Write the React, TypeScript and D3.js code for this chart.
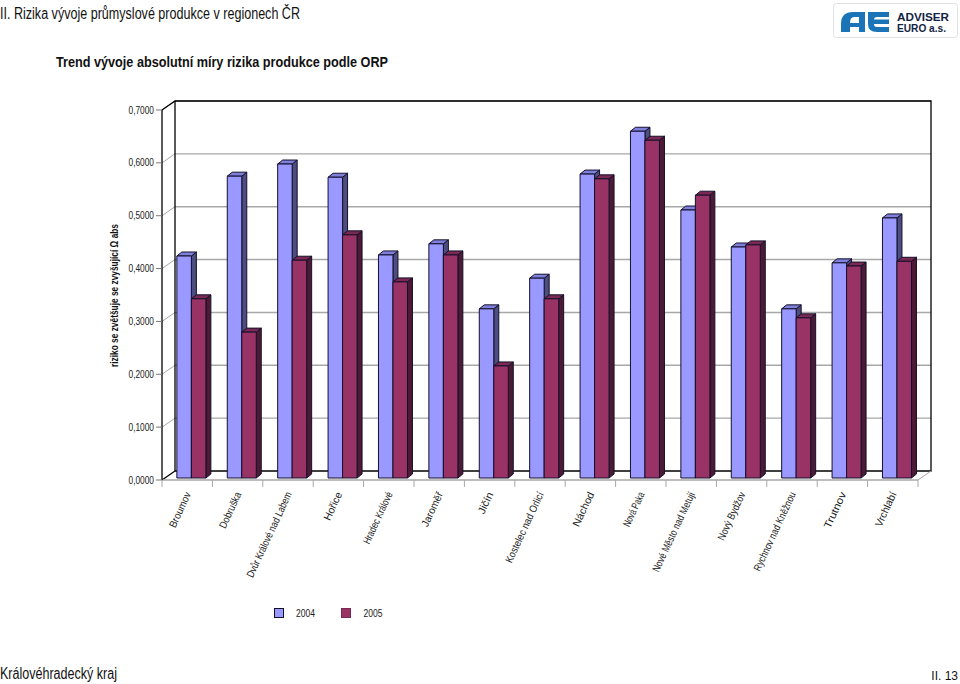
import React from 'react';
import * as d3 from 'd3';

const categories = ['Broumov','Dobruška','Dvůr Králové nad Labem','Hořice','Hradec Králové','Jaroměř','Jičín','Kostelec nad Orlicí','Náchod','Nová Paka','Nové Město nad Metují','Nový Bydžov','Rychnov nad Kněžnou','Trutnov','Vrchlabí'];
const series2004 = [0.420,0.571,0.594,0.569,0.422,0.443,0.320,0.378,0.575,0.656,0.507,0.437,0.320,0.407,0.492];
const series2005 = [0.339,0.276,0.412,0.460,0.371,0.422,0.212,0.339,0.566,0.639,0.535,0.441,0.303,0.401,0.410];
const yTicks = [0,0.1,0.2,0.3,0.4,0.5,0.6,0.7];
const labelLengths = [38,39,93,30,56,37,23,77,37,37,87,52,86,39,37];
const seriesNames = ['2004','2005'];

const FONT = '"Liberation Sans", Arial, sans-serif';
const left = 162, right = 918, dx = 13, dy = -9;
const y = d3.scaleLinear().domain([0, 0.7]).range([480, 110]);
const x = d3.scaleBand<string>().domain(categories).range([left, right]);
const H = (v: number) => y(0) - y(v);
const barBase = 478;
const bw = 14.5, bdx = 5, bdy = -4;
const fmt = (v: number) => v.toFixed(4).replace('.', ',');
const GRID = '#a8a8a8';

function Bar({ x0, v, front, top, side }: any) {
  const yt = barBase - H(v);
  const p = (pts: number[][]) => pts.map(a => a.join(',')).join(' ');
  return (
    <g stroke="#14102c" strokeWidth={1} strokeLinejoin="round">
      <polygon points={p([[x0 + bw, yt],[x0 + bw + bdx, yt + bdy],[x0 + bw + bdx, barBase + bdy],[x0 + bw, barBase]])} fill={side} />
      <polygon points={p([[x0, yt],[x0 + bdx, yt + bdy],[x0 + bw + bdx, yt + bdy],[x0 + bw, yt]])} fill={top} />
      <rect x={x0} y={yt} width={bw} height={H(v) } fill={front} />
    </g>
  );
}

export default function App() {
  const step = x.step();
  return (
    <svg width={960} height={684} viewBox="0 0 960 684" style={{ position: 'absolute', left: 0, top: 0, background: '#fff' }} fontFamily={FONT}>
      <text x={0} y={19} fontSize={16} fill="#111" textLength={300} lengthAdjust="spacingAndGlyphs">II. Rizika vývoje průmyslové produkce v regionech ČR</text>
      <text x={56} y={67} fontSize={14} fontWeight="bold" fill="#111" textLength={332} lengthAdjust="spacingAndGlyphs">Trend vývoje absolutní míry rizika produkce podle ORP</text>

      {/* logo */}
      <g>
        <rect x={833.5} y={3.5} width={124} height={34} rx={3} fill="#fff" stroke="#e2e2e2" />
        <path d="M841 32 V24 Q841 12 853 12 H865 V32 H859 V27 H850 V32 Z M850 23 H859 V17 H854 Q850 17 850 23 Z" fill="#1c74b8" fillRule="evenodd" />
        <path d="M868 12 H889 V17 H877 Q874 17 874 19.5 H889 V24 H874 Q874 27 877 27 H889 V32 H877 Q868 32 868 24 Z" fill="#1c74b8" />
        <text x={897} y={21} fontSize={10.5} fontWeight="bold" fill="#14233f" textLength={52} lengthAdjust="spacingAndGlyphs">ADVISER</text>
        <text x={897} y={32} fontSize={10.5} fontWeight="bold" fill="#14233f" textLength={49} lengthAdjust="spacingAndGlyphs">EURO a.s.</text>
      </g>

      {/* gridlines on back wall and side wall */}
      {yTicks.slice(1).map(t => (
        <g key={t}>
          <line x1={left + dx} x2={right + dx} y1={y(t) + dy} y2={y(t) + dy} stroke={GRID} strokeWidth={1.4} />
          <line x1={left} x2={left + dx} y1={y(t)} y2={y(t) + dy} stroke={GRID} strokeWidth={1} />
        </g>
      ))}
      {/* walls */}
      <polyline points={`${left},${y(0.7)} ${left + dx},${y(0.7) + dy} ${right + dx},${y(0.7) + dy} ${right + dx},${y(0) + dy} ${left + dx},${y(0) + dy}`} fill="none" stroke="#000" strokeWidth={1.3} />
      <line x1={left + dx} x2={left + dx} y1={y(0.7) + dy} y2={y(0) + dy} stroke="#000" strokeWidth={1.3} />
      <line x1={left} x2={left + dx} y1={y(0)} y2={y(0) + dy} stroke="#000" strokeWidth={1.3} />
      <line x1={right} x2={right + dx} y1={y(0)} y2={y(0) + dy} stroke={GRID} strokeWidth={1} />

      {/* bars */}
      {categories.map((c, i) => {
        const x0 = x(c)! + step * 0.295;
        return (
          <g key={c}>
            <Bar x0={x0} v={series2004[i]} front="#9999ff" top="#7f7fdc" side="#4d4d80" />
            <Bar x0={x0 + bw} v={series2005[i]} front="#993366" top="#7a2952" side="#4d1a33" />
          </g>
        );
      })}

      {/* front axes */}
      <line x1={left} x2={right} y1={y(0)} y2={y(0)} stroke={GRID} strokeWidth={1.4} />
      <line x1={left} x2={left} y1={y(0.7)} y2={y(0)} stroke="#000" strokeWidth={1.3} />
      {yTicks.map(t => (
        <g key={t}>
          <line x1={left - 6} x2={left} y1={y(t)} y2={y(t)} stroke="#777" strokeWidth={1} />
          <text x={154} y={y(t) + 3.6} fontSize={10} textAnchor="end" fill="#222" textLength={25.5} lengthAdjust="spacingAndGlyphs">{fmt(t)}</text>
        </g>
      ))}
      {d3.range(16).map(i => {
        const px = left + i * step;
        return <line key={i} x1={px} x2={px} y1={y(0)} y2={y(0) + 7} stroke={GRID} strokeWidth={1} />;
      })}
      {categories.map((c, i) => {
        const ax = x(c)! + step * 0.58;
        return (
          <text key={c} transform={`translate(${ax},${494}) rotate(-65)`} fontSize={10.5} textAnchor="end" fill="#222" textLength={labelLengths[i]} lengthAdjust="spacingAndGlyphs">{c}</text>
        );
      })}

      <text transform="translate(118,295.5) rotate(-90)" fontSize={10} fontWeight="bold" textAnchor="middle" fill="#111" textLength={143} lengthAdjust="spacingAndGlyphs">riziko se zvětšuje se zvyšující Ω abs</text>

      {/* legend */}
      <rect x={274.5} y={608.5} width={9} height={9} fill="#9999ff" stroke="#14102c" />
      <text x={296} y={616.5} fontSize={10} fill="#222" textLength={19} lengthAdjust="spacingAndGlyphs">{seriesNames[0]}</text>
      <rect x={341.5} y={608.5} width={9} height={9} fill="#993366" stroke="#7a2952" />
      <text x={363.5} y={616.5} fontSize={10} fill="#222" textLength={19} lengthAdjust="spacingAndGlyphs">{seriesNames[1]}</text>

      <text x={0} y={679} fontSize={16} fill="#111" textLength={117} lengthAdjust="spacingAndGlyphs">Královéhradecký kraj</text>
      <text x={958} y={680} fontSize={12} fill="#111" textAnchor="end">II.  13</text>
    </svg>
  );
}
